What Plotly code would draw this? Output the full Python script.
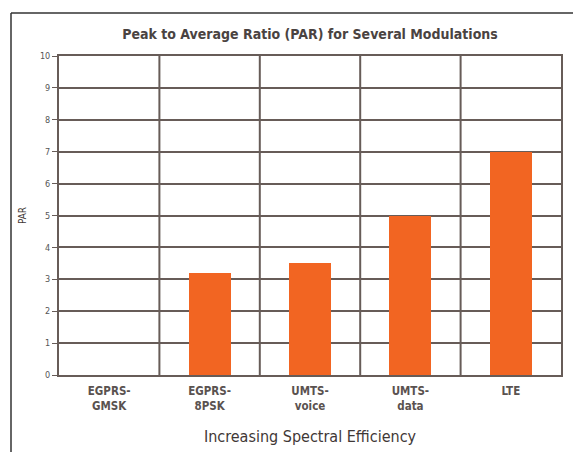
import plotly.graph_objects as go

categories = ["EGPRS-<br>GMSK", "EGPRS-<br>8PSK", "UMTS-<br>voice", "UMTS-<br>data", "LTE"]
par_values = [0, 3.2, 3.5, 5, 7]
y_ticks = list(range(0, 11))

FONT = "DejaVu Sans Condensed, Liberation Sans Narrow, sans-serif"
GRID = "#675c58"
BAR = "#f26522"
TXT = "#3f3836"

W, H = 573, 452
L, R, T, B = 59, 12, 56, 77
pw, ph = W - L - R, H - T - B

xs = list(range(len(categories)))

fig = go.Figure(go.Bar(
    x=xs, y=par_values, width=0.42,
    marker=dict(color=BAR, line=dict(width=0)),
))

shapes = []
# category dividers
for i in range(1, len(categories)):
    shapes.append(dict(type="line", xref="x", yref="paper", x0=i - 0.5, x1=i - 0.5,
                       y0=0, y1=1, line=dict(color=GRID, width=2), layer="below"))
# outer frame (left and top rules)
fx = (11 - L) / pw
fy = (H - B - 13) / ph
shapes.append(dict(type="line", xref="paper", yref="paper", x0=fx, x1=fx, y0=-(B + 5) / ph, y1=fy,
                   line=dict(color="#333", width=1.5)))
shapes.append(dict(type="line", xref="paper", yref="paper", x0=fx, x1=(W + 5 - L) / pw, y0=fy, y1=fy,
                   line=dict(color="#333", width=1.5)))

fig.update_layout(
    width=W, height=H,
    margin=dict(l=L, r=R, t=T, b=B, autoexpand=False),
    plot_bgcolor="white", paper_bgcolor="white",
    showlegend=False,
    bargap=0,
    shapes=shapes,
    title=dict(text="<b>Peak to Average Ratio (PAR) for Several Modulations</b>",
               x=310 / W, xanchor="center", y=1 - 34 / H, yanchor="middle",
               font=dict(family=FONT, size=14, color="#4a4341")),
    xaxis=dict(
        range=[-0.5, len(categories) - 0.5],
        tickmode="array", tickvals=xs, ticktext=categories,
        tickfont=dict(family=FONT, size=11.5, color="#5a5250", weight="bold"),
        showgrid=False, zeroline=False, automargin=False,
        showline=True, linecolor=GRID, linewidth=2, mirror=True,
        ticks="", ticklabelstandoff=4,
        title=dict(text="Increasing Spectral Efficiency", standoff=19,
                   font=dict(family=FONT, size=16, color=TXT)),
    ),
    yaxis=dict(
        range=[0, 10], automargin=False,
        tickmode="array", tickvals=y_ticks,
        tickfont=dict(family=FONT, size=9, color="#555"),
        showgrid=True, gridcolor=GRID, gridwidth=2,
        zeroline=False,
        showline=True, linecolor=GRID, linewidth=2, mirror=True,
        ticks="outside", ticklen=5, tickcolor=GRID, tickwidth=1,
        title=dict(text="PAR", standoff=11,
                   font=dict(family=FONT, size=10, color=TXT)),
    ),
)

fig.write_html("out.html")
